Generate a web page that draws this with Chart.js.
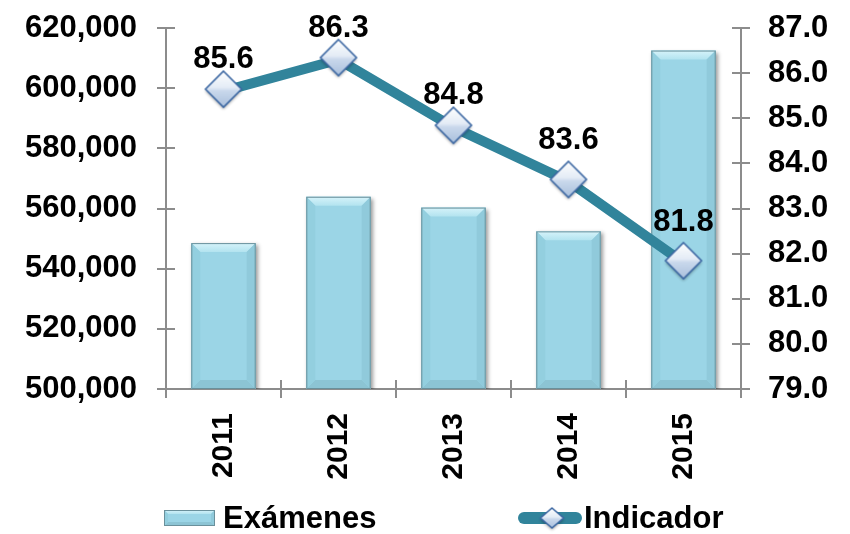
<!DOCTYPE html>
<html>
<head>
<meta charset="utf-8">
<script src="https://cdn.jsdelivr.net/npm/chart.js@4.4.1/dist/chart.umd.min.js"></script>
<style>
  html, body { margin: 0; padding: 0; background: #fff; }
  #wrap { width: 850px; height: 534px; }
</style>
</head>
<body>
<div id="wrap"><canvas id="myChart" width="850" height="534"></canvas></div>
<script>
// data
const years = ['2011', '2012', '2013', '2014', '2015'];
const examenes = [548500, 563900, 560300, 552400, 612500];
const indicador = [85.6, 86.3, 84.8, 83.6, 81.8];
const leftRange = [500000, 620000, 20000];
const rightRange = [79, 87, 1];

// how far each value label sits above its marker
const labelLift = [23, 23, 23, 32, 32];

const FONT = '"Liberation Sans", Arial, sans-serif';
const TEAL = '#31849B';
const BAR_FILL = '#9BD5E6';
const AXIS = '#8C8C8C';

// diamond marker with a soft gradient, drawn once into its own canvas
const makeDiamond = (hw, hh) => {
    const c = document.createElement('canvas');
    c.width = hw * 2 + 8;
    c.height = hh * 2 + 10;
    const g = c.getContext('2d');
    const cx = c.width / 2, cy = hh + 3;
    g.shadowColor = 'rgba(0,0,0,0.35)';
    g.shadowBlur = 3;
    g.shadowOffsetY = 2;
    g.beginPath();
    g.moveTo(cx, cy - hh);
    g.lineTo(cx + hw, cy);
    g.lineTo(cx, cy + hh);
    g.lineTo(cx - hw, cy);
    g.closePath();
    const grad = g.createLinearGradient(0, cy - hh, 0, cy + hh);
    grad.addColorStop(0, '#ffffff');
    grad.addColorStop(0.45, '#e4ecf6');
    grad.addColorStop(0.55, '#c9d8ec');
    grad.addColorStop(1, '#a9bfdc');
    g.fillStyle = grad;
    g.fill();
    g.shadowColor = 'transparent';
    g.lineWidth = 1.6;
    g.strokeStyle = '#3d68a3';
    g.stroke();
    return c;
};

const diamond = makeDiamond(18, 18);
const smallDiamond = makeDiamond(11.5, 10);

// bevelled bar face
const bevel = (ctx, L, R, T, B, b) => {
    const face = (pts, fill) => {
        ctx.beginPath();
        ctx.moveTo(pts[0][0], pts[0][1]);
        for (let i = 1; i < pts.length; i++) ctx.lineTo(pts[i][0], pts[i][1]);
        ctx.closePath();
        ctx.fillStyle = fill;
        ctx.fill();
    };
    ctx.fillStyle = BAR_FILL;
    ctx.fillRect(L, T, R - L, B - T);
    const top = ctx.createLinearGradient(0, T, 0, T + b);
    top.addColorStop(0, '#d6f3fa');
    top.addColorStop(1, '#b2e3ef');
    face([[L, T], [R, T], [R - b, T + b], [L + b, T + b]], top);
    face([[L, B], [R, B], [R - b, B - b], [L + b, B - b]], '#8cc4d4');
    face([[L, T], [L + b, T + b], [L + b, B - b], [L, B]], '#93cfdf');
    face([[R, T], [R - b, T + b], [R - b, B - b], [R, B]], '#90cadb');
    ctx.strokeStyle = '#6a909b';
    ctx.lineWidth = 1;
    ctx.strokeRect(L + 0.5, T + 0.5, R - L - 1, B - T - 1);
};

const barLook = {
    id: 'barLook',
    beforeDatasetDraw(chart, args) {
        if (chart.data.datasets[args.index].type !== 'bar') return;
        const ctx = chart.ctx;
        ctx.save();
        ctx.shadowColor = 'rgba(0,0,0,0.4)';
        ctx.shadowBlur = 4;
        ctx.shadowOffsetX = 2;
        ctx.shadowOffsetY = 2;
    },
    afterDatasetDraw(chart, args) {
        if (chart.data.datasets[args.index].type !== 'bar') return;
        const ctx = chart.ctx;
        ctx.restore();
        const bottom = chart.chartArea.bottom;
        ctx.save();
        args.meta.data.forEach(bar => {
            const L = bar.x - bar.width / 2, R = bar.x + bar.width / 2;
            bevel(ctx, L, R, bar.y, Math.min(bar.base, bottom), 9);
        });
        ctx.restore();
    }
};

// tick marks crossing the axis lines
const crossTicks = {
    id: 'crossTicks',
    afterDraw(chart) {
        const ctx = chart.ctx;
        const { y, y1, x } = chart.scales;
        const len = 9;
        ctx.save();
        ctx.strokeStyle = AXIS;
        ctx.lineWidth = 2;
        ctx.beginPath();
        y.ticks.forEach(t => {
            const p = Math.round(y.getPixelForValue(t.value));
            ctx.moveTo(y.right - len, p); ctx.lineTo(y.right + len, p);
        });
        y1.ticks.forEach(t => {
            const p = Math.round(y1.getPixelForValue(t.value));
            ctx.moveTo(y1.left - len, p); ctx.lineTo(y1.left + len, p);
        });
        for (let i = 0; i <= years.length; i++) {
            const p = Math.round(x.getPixelForDecimal(i / years.length));
            ctx.moveTo(p, x.top - len); ctx.lineTo(p, x.top + len);
        }
        ctx.stroke();
        ctx.restore();
    }
};

// value labels over the markers
const valueLabels = {
    id: 'valueLabels',
    afterDatasetsDraw(chart) {
        const ctx = chart.ctx;
        const meta = chart.getDatasetMeta(0);
        ctx.save();
        ctx.font = 'bold 31px ' + FONT;
        ctx.fillStyle = '#000';
        ctx.textAlign = 'center';
        ctx.textBaseline = 'alphabetic';
        meta.data.forEach((pt, i) => {
            ctx.fillText(indicador[i].toFixed(1), pt.x, pt.y - labelLift[i]);
        });
        ctx.restore();
    }
};

// legend row under the axis labels
const bottomLegend = {
    id: 'bottomLegend',
    afterDraw(chart) {
        const ctx = chart.ctx;
        ctx.save();
        bevel(ctx, 164, 215, 510, 526, 4);
        ctx.font = 'bold 31px ' + FONT;
        ctx.fillStyle = '#000';
        ctx.textBaseline = 'alphabetic';
        ctx.fillText(chart.data.datasets[1].label, 223, 528);

        ctx.strokeStyle = TEAL;
        ctx.lineWidth = 12;
        ctx.lineCap = 'round';
        ctx.beginPath();
        ctx.moveTo(524, 518);
        ctx.lineTo(576, 518);
        ctx.stroke();
        ctx.drawImage(smallDiamond, 552 - smallDiamond.width / 2, 518 - 13);
        ctx.fillStyle = '#000';
        ctx.fillText(chart.data.datasets[0].label, 584, 528);
        ctx.restore();
    }
};

const tickFont = { family: FONT, size: 31, weight: 'bold' };

new Chart(document.getElementById('myChart'), {
    data: {
        labels: years,
        datasets: [
            {
                type: 'line',
                label: 'Indicador',
                data: indicador,
                yAxisID: 'y1',
                borderColor: TEAL,
                borderWidth: 10,
                tension: 0,
                pointStyle: diamond,
                pointRadius: 18,
                order: 1
            },
            {
                type: 'bar',
                label: 'Exámenes',
                data: examenes,
                yAxisID: 'y',
                backgroundColor: BAR_FILL,
                borderWidth: 0,
                categoryPercentage: 1,
                barPercentage: 0.56,
                order: 2
            }
        ]
    },
    options: {
        responsive: false,
        devicePixelRatio: 1,
        animation: false,
        layout: { padding: { top: 25, left: 0, right: 0, bottom: 0 } },
        plugins: {
            legend: { display: false },
            tooltip: { enabled: false }
        },
        scales: {
            x: {
                grid: { display: false, drawTicks: false },
                border: { display: true, color: AXIS, width: 2 },
                ticks: {
                    color: '#000',
                    font: { family: FONT, size: 30, weight: 'bold' },
                    minRotation: 90,
                    maxRotation: 90,
                    autoSkip: false,
                    padding: 24
                },
                afterFit: s => { s.height = 145; }
            },
            y: {
                position: 'left',
                min: leftRange[0],
                max: leftRange[1],
                // tick marks are drawn by crossTicks; tickLength only spaces the labels
                grid: { display: false, drawTicks: true, tickLength: 26 },
                border: { display: true, color: AXIS, width: 2 },
                ticks: {
                    stepSize: leftRange[2],
                    color: '#000',
                    font: tickFont,
                    padding: 3,
                    callback: v => v.toLocaleString('en-US')
                },
                afterFit: s => { s.width = 166; }
            },
            y1: {
                position: 'right',
                min: rightRange[0],
                max: rightRange[1],
                grid: { display: false, drawTicks: true, tickLength: 24 },
                border: { display: true, color: AXIS, width: 2 },
                ticks: {
                    stepSize: rightRange[2],
                    color: '#000',
                    font: tickFont,
                    padding: 3,
                    callback: v => v.toFixed(1)
                },
                afterFit: s => { s.width = 109; }
            }
        }
    },
    plugins: [barLook, crossTicks, valueLabels, bottomLegend]
});
</script>
</body>
</html>
